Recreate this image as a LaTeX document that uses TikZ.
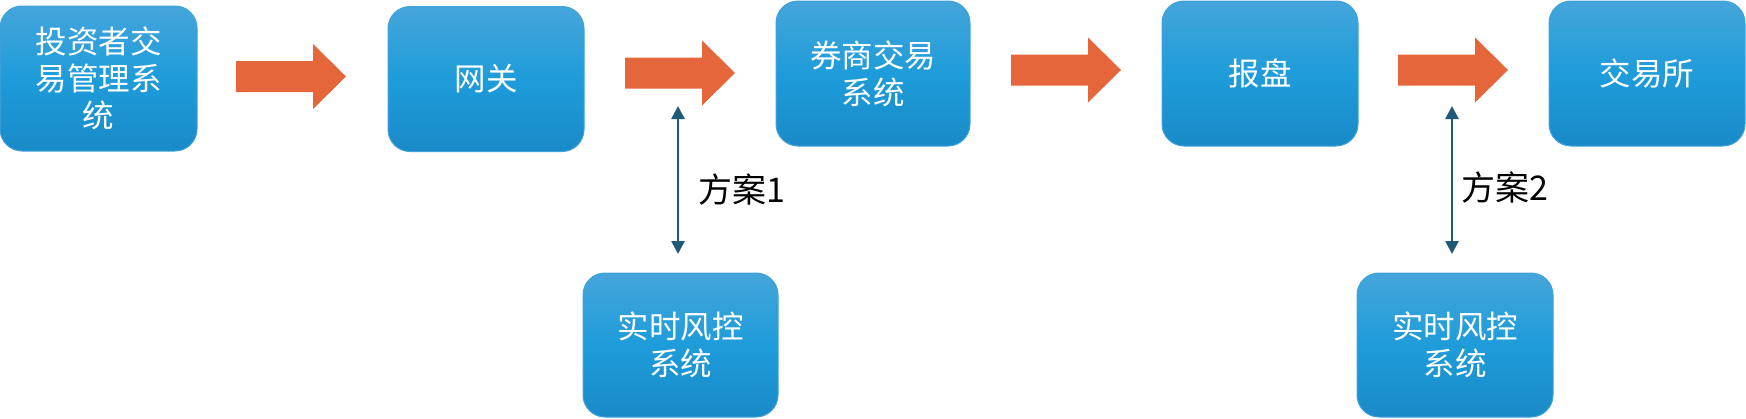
\documentclass[tikz,border=0pt]{standalone}
\usepackage{fontspec}
\newfontfamily\cjk{Noto Sans CJK SC}
\usetikzlibrary{arrows.meta}
\definecolor{boxtop}{HTML}{45A5DB}
\definecolor{boxmid}{HTML}{1E9CDA}
\definecolor{boxbot}{HTML}{1A8AC8}
\definecolor{boxline}{HTML}{3FA2DA}
\definecolor{flow}{HTML}{E5663A}
\definecolor{link}{HTML}{1F5A78}
\tikzset{
  sysbox/.style={rounded corners=22pt, draw=boxline, line width=1pt,
    top color=boxtop, bottom color=boxbot, middle color=boxmid,
    minimum width=196pt, minimum height=145pt, inner sep=0pt,
    align=center, text=white, font=\cjk\fontsize{31.5}{37}\selectfont},
  flowarrow/.style={fill=flow, draw=none},
  linkarrow/.style={draw=link, line width=2.6pt,
    {Triangle[width=13pt,length=13pt]}-{Triangle[width=13pt,length=13pt]}},
  plan/.style={anchor=west, text=black, inner sep=0pt,
    font=\cjk\fontsize{34}{37}\selectfont}
}
% block arrow: starts at the named coordinate (left end, centre line)
\newcommand\blockarrow[1]{%
  \fill[flowarrow] (#1) ++(0,15.5) -- ++(77,0) -- ++(0,17) -- ++(33,-32.5)
    -- ++(-33,-32.5) -- ++(0,17) -- ++(-77,0) -- cycle;}
\begin{document}
\begin{tikzpicture}[x=1pt,y=1pt]
\useasboundingbox (0,0) rectangle (1746,-418);
\node[sysbox, minimum width=197pt] (b1) at (98.5,-78.5) {投资者交\\易管理系\\统};
\node[sysbox] (b2) at (486,-79) {网关};
\node[sysbox, minimum width=194pt] (b3) at (873,-73.5) {券商交易\\系统};
\node[sysbox] (b4) at (1260,-73.5) {报盘};
\node[sysbox] (b5) at (1647,-73.5) {交易所};
\node[sysbox, minimum width=195pt, minimum height=144pt] (r1) at (680.5,-345) {实时风控\\系统};
\node[sysbox, minimum height=144pt] (r2) at (1455,-345) {实时风控\\系统};
\coordinate (f1) at (236,-76.5);
\coordinate (f2) at (625,-73);
\coordinate (f3) at (1011,-70);
\coordinate (f4) at (1398,-70);
\blockarrow{f1}
\blockarrow{f2}
\blockarrow{f3}
\blockarrow{f4}
\coordinate (l1top) at (678,-106);
\coordinate (l1bot) at (678,-254);
\coordinate (l2top) at (1452,-106);
\coordinate (l2bot) at (1452,-254);
\draw[linkarrow] (l1top) -- (l1bot);
\draw[linkarrow] (l2top) -- (l2bot);
\node[plan] (p1) at (698,-190) {方案1};
\node[plan] (p2) at (1461,-188) {方案2};
\end{tikzpicture}
\end{document}
